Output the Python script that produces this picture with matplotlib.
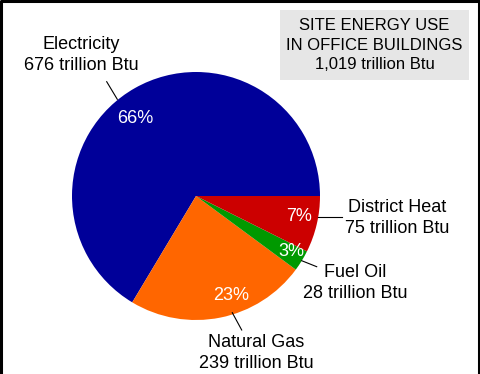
import matplotlib.pyplot as plt

# site energy use in office buildings (trillion Btu)
sources = ['Electricity', 'Natural Gas', 'Fuel Oil', 'District Heat']
values = [676, 239, 28, 75]
pcts = ['66%', '23%', '3%', '7%']
colors = ['#000099', '#FF6600', '#009900', '#CC0000']
total_label = '1,019 trillion Btu'

plt.rcParams['font.family'] = ['Liberation Sans', 'DejaVu Sans']

W, H = 480, 374
fig = plt.figure(figsize=(W / 100, H / 100), dpi=100)
ax = fig.add_axes([0, 0, 1, 1])

# pixel y (from top) -> data y
def py(y):
    return H - y

cx, cy, r = 196, py(196), 124
wedges, _ = ax.pie(values, colors=colors, startangle=0, counterclock=True,
                   center=(cx, cy), radius=r, frame=True,
                   wedgeprops=dict(linewidth=0))
ax.set_xlim(0, W)
ax.set_ylim(0, H)
ax.set_aspect('equal')
ax.axis('off')

fs = 13
# percentage labels inside the slices
pct_pos = [(135, 118), (231, 296), (291, 251), (299, 216)]
for p, (x, y) in zip(pcts, pct_pos):
    ax.text(x, py(y), p, color='white', fontsize=fs, ha='center', va='center')

# outside labels with leader lines
labels = [
    ('Electricity\n676 trillion Btu', (81, 55), [(106.7, 81.7), (117.3, 99.3)]),
    ('Natural Gas\n239 trillion Btu', (256, 353), [(232.3, 312.7), (241.7, 330)]),
    ('Fuel Oil\n28 trillion Btu', (355, 283), [(301.7, 260.7), (316.7, 266.7)]),
    ('District Heat\n75 trillion Btu', (397, 218), [(318, 217), (341.7, 217)]),
]
for txt, (x, y), line in labels:
    ax.text(x, py(y), txt, fontsize=fs, ha='center', va='center', linespacing=1.25)
    ax.plot([p[0] for p in line], [py(p[1]) for p in line], color='black', lw=0.8)

# title box
ax.add_patch(plt.Rectangle((280, py(80)), 189, 70, facecolor='#E6E6E6',
                           edgecolor='none'))
ax.text(374.5, py(45), 'SITE ENERGY USE\nIN OFFICE BUILDINGS\n' + total_label,
        fontsize=12, ha='center', va='center', linespacing=1.35)

# border on left, top and right
ax.plot([1, 1, W - 1.5, W - 1.5], [0, H - 1, H - 1, 0], color='black', lw=2.2,
        clip_on=False)

fig.savefig('out.png', dpi=100)
